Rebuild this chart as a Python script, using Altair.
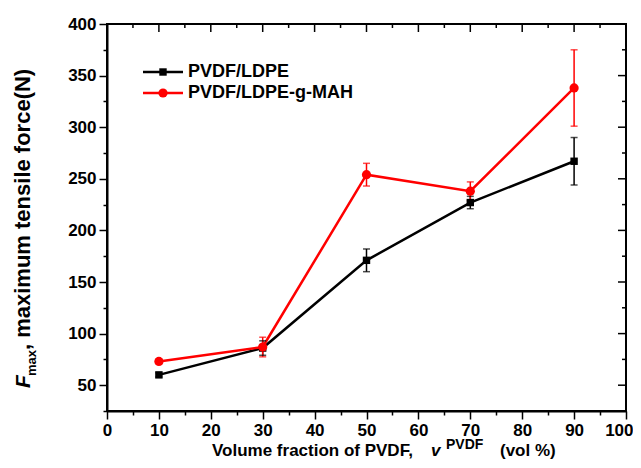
import altair as alt
import pandas as pd

# ---- data ----
x_vals = [10, 30, 50, 70, 90]
ldpe_force = [60, 86, 171, 227, 267]
ldpe_err = [2, 7, 11, 6, 23]
mah_force = [73, 87, 254, 238, 338]
mah_err = [2, 9.5, 11, 9, 37]
series_names = ["PVDF/LDPE", "PVDF/LDPE-g-MAH"]
series_colors = ["#000000", "#ff0000"]
x_ticks = list(range(0, 101, 5))
y_ticks = list(range(25, 401, 25))

W, H = 519, 387
FONT = "Liberation Sans"

rows = []
for name, vals, errs in [(series_names[0], ldpe_force, ldpe_err),
                         (series_names[1], mah_force, mah_err)]:
    for xv, v, e in zip(x_vals, vals, errs):
        rows.append({"x": xv, "y": v, "lo": v - e, "hi": v + e, "series": name})
df = pd.DataFrame(rows)

xs = alt.Scale(domain=[0, 100], nice=False, zero=False)
ys = alt.Scale(domain=[25, 400], nice=False, zero=False)
color = alt.Color("series:N", scale=alt.Scale(domain=series_names, range=series_colors), legend=None)

xaxis = alt.Axis(values=x_ticks, title=None, grid=False,
                 labelExpr="datum.value % 10 === 0 ? datum.label : ''",
                 tickSize={"condition": {"test": "datum.value % 10 === 0", "value": 8}, "value": 4},
                 labelAlign={"condition": {"test": "datum.value === 100", "value": "right"}, "value": "center"},
                 labelOffset={"condition": {"test": "datum.value === 100", "value": 7}, "value": 0},
                 labelPadding=3, labelFlush=False,
                 labelFont=FONT, labelFontSize=17, labelFontWeight="bold", labelColor="black")
yaxis = alt.Axis(values=y_ticks, title=None, grid=False,
                 labelExpr="datum.value % 50 === 0 ? datum.label : ''",
                 tickSize={"condition": {"test": "datum.value % 50 === 0", "value": 8}, "value": 4},
                 labelPadding=3, labelFlush=False,
                 labelFont=FONT, labelFontSize=17, labelFontWeight="bold", labelColor="black")

base = alt.Chart(df)
X = alt.X("x:Q", scale=xs, axis=xaxis)
Yt = alt.Y("y:Q", scale=ys, axis=yaxis)

lines = base.mark_line(strokeWidth=2.5).encode(
    x=X, y=Yt, color=color, detail="series:N")
err_rule = base.mark_rule(strokeWidth=1.5).encode(
    x=X, y=alt.Y("lo:Q", scale=ys, axis=yaxis), y2="hi:Q", color=color)
cap_lo = base.mark_tick(orient="horizontal", size=7, thickness=1.5).encode(
    x=X, y=alt.Y("lo:Q", scale=ys, axis=yaxis), color=color)
cap_hi = base.mark_tick(orient="horizontal", size=7, thickness=1.5).encode(
    x=X, y=alt.Y("hi:Q", scale=ys, axis=yaxis), color=color)
pts_sq = base.transform_filter(alt.datum.series == series_names[0]).mark_point(
    shape="square", filled=True, size=55, opacity=1).encode(
    x=X, y=Yt, color=color)
pts_ci = base.transform_filter(alt.datum.series == series_names[1]).mark_point(
    shape="circle", filled=True, size=85, opacity=1).encode(
    x=X, y=Yt, color=color)

# mirrored inward ticks on top and right
top_major = alt.Chart(pd.DataFrame({"x": [v for v in x_ticks if v % 10 == 0 and 0 < v < 100]})).mark_rule(
    strokeWidth=1.5, color="black").encode(x=X, y=alt.value(0), y2=alt.value(8))
top_minor = alt.Chart(pd.DataFrame({"x": [v for v in x_ticks if v % 10 != 0]})).mark_rule(
    strokeWidth=1.5, color="black").encode(x=X, y=alt.value(0), y2=alt.value(4))
right_major = alt.Chart(pd.DataFrame({"y": [v for v in y_ticks if v % 50 == 0 and 25 < v < 400]})).mark_rule(
    strokeWidth=1.5, color="black").encode(y=Yt, x=alt.value(W), x2=alt.value(W - 8))
right_minor = alt.Chart(pd.DataFrame({"y": [v for v in y_ticks if v % 50 != 0 and 25 < v < 400]})).mark_rule(
    strokeWidth=1.5, color="black").encode(y=Yt, x=alt.value(W), x2=alt.value(W - 4))

one = pd.DataFrame({"k": [0]})

def txt(s, px, py, size, angle=0, style="normal", align="left", baseline="alphabetic", weight="bold"):
    kw = dict(font=FONT, fontSize=size, fontWeight=weight, fontStyle=style,
              align=align, baseline=baseline, color="black")
    if angle:
        kw["angle"] = angle
    return alt.Chart(one).mark_text(**kw).encode(
        x=alt.value(px), y=alt.value(py), text=alt.value(s))

# x title pieces
xt = [
    txt("Volume fraction of PVDF, ", 105, 432, 17),
    txt("v", 324, 432, 17, style="italic"),
    txt("PVDF", 339, 425, 14),
    txt("(vol %)", 393, 432, 17),
]
# y title pieces (rotated)
yt = [
    txt("F", -77, 364, 21, angle=270, style="italic"),
    txt("max", -71, 352, 13, angle=270),
    txt(", maximum tensile force(N)", -77, 326, 22, angle=270),
]

# legend
leg = []
for i, (name, shp, sz) in enumerate([(series_names[0], "square", 55), (series_names[1], "circle", 85)]):
    py = 48 + i * 21
    c = series_colors[i]
    leg.append(alt.Chart(one).mark_rule(strokeWidth=2.5, color=c).encode(
        x=alt.value(36), x2=alt.value(76), y=alt.value(py)))
    leg.append(alt.Chart(one).mark_point(shape=shp, filled=True, size=sz, opacity=1, color=c).encode(
        x=alt.value(56), y=alt.value(py)))
    leg.append(txt(name, 81, py, 18, baseline="middle"))

chart = alt.layer(
    lines, err_rule, cap_lo, cap_hi, pts_sq, pts_ci,
    top_major, top_minor, right_major, right_minor,
    *xt, *yt, *leg
).properties(
    width=W, height=H,
    background="white",
    autosize=alt.AutoSizeParams(type="none"),
    padding={"left": 99, "top": 16, "right": 7, "bottom": 49},
).configure_view(
    stroke="black", strokeWidth=2
).configure_axis(
    domainColor="black", domainWidth=2, tickColor="black", tickWidth=1.5,
    labelFont=FONT, labelFontSize=17, labelFontWeight="bold", labelColor="black",
)

chart.save("out.html", embed_options={"renderer": "svg", "actions": False})
